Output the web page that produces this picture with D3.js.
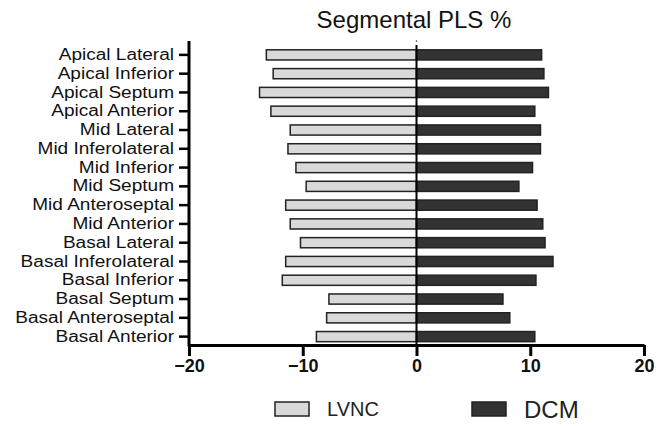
<!DOCTYPE html>
<html>
<head>
<meta charset="utf-8">
<script src="https://cdn.jsdelivr.net/npm/d3@7"></script>
<style>
  body { margin: 0; background: #fff; }
  svg { display: block; font-family: "Liberation Sans", Arial, sans-serif; }
</style>
</head>
<body>
<svg id="chart" width="667" height="426"></svg>
<script>
const segments = [
  "Apical Lateral", "Apical Inferior", "Apical Septum", "Apical Anterior",
  "Mid Lateral", "Mid Inferolateral", "Mid Inferior", "Mid Septum",
  "Mid Anteroseptal", "Mid Anterior", "Basal Lateral", "Basal Inferolateral",
  "Basal Inferior", "Basal Septum", "Basal Anteroseptal", "Basal Anterior"
];
const lvnc = [-13.2, -12.6, -13.8, -12.8, -11.1, -11.3, -10.6, -9.7,
  -11.5, -11.1, -10.2, -11.5, -11.8, -7.7, -7.9, -8.8];
const dcm = [11.0, 11.2, 11.6, 10.4, 10.9, 10.9, 10.2, 9.0,
  10.6, 11.1, 11.3, 12.0, 10.5, 7.6, 8.2, 10.4];
const xTicks = [-20, -10, 0, 10, 20];

const svg = d3.select("#chart");
const x = d3.scaleLinear().domain([-20, 20]).range([189, 644]);
const y = d3.scaleBand().domain(segments).range([45.5, 346]).paddingInner(0.46).paddingOuter(0.23);

const rows = segments.map((s, i) => ({ s, lvnc: lvnc[i], dcm: dcm[i] }));

// bars
svg.append("g").selectAll("rect")
  .data(rows)
  .join("rect")
  .attr("x", d => x(d.lvnc))
  .attr("y", d => y(d.s))
  .attr("width", d => x(0) - x(d.lvnc))
  .attr("height", y.bandwidth())
  .attr("fill", "#d9d9d9")
  .attr("stroke", "#222")
  .attr("stroke-width", 1.5);

svg.append("g").selectAll("rect")
  .data(rows)
  .join("rect")
  .attr("x", x(0))
  .attr("y", d => y(d.s))
  .attr("width", d => x(d.dcm) - x(0))
  .attr("height", y.bandwidth())
  .attr("fill", "#333")
  .attr("stroke", "#222")
  .attr("stroke-width", 1.5);

// zero line
svg.append("line")
  .attr("x1", x(0)).attr("x2", x(0))
  .attr("y1", 45).attr("y2", 345)
  .attr("stroke", "#000").attr("stroke-width", 2);
svg.append("circle").attr("cx", x(0)).attr("cy", 41).attr("r", 0.8).attr("fill", "#333");

// y axis - labels are wide and tightly packed, so stretch them horizontally
const labelStretch = 1.19;
const yAxis = svg.append("g")
  .attr("transform", `translate(${x(-20)},0)`)
  .call(d3.axisLeft(y).tickSize(10).tickPadding(5));
yAxis.select(".domain").remove();
yAxis.selectAll(".tick line").attr("stroke", "#000").attr("stroke-width", 2.5);
yAxis.selectAll(".tick text")
  .attr("font-size", 16).attr("fill", "#111")
  .attr("font-family", "Liberation Sans, Arial, sans-serif")
  .attr("x", -15 / labelStretch)
  .attr("transform", `scale(${labelStretch},1)`);
svg.append("line")
  .attr("x1", x(-20)).attr("x2", x(-20))
  .attr("y1", 41).attr("y2", 346.5)
  .attr("stroke", "#000").attr("stroke-width", 3);

// x axis
const xAxis = svg.append("g")
  .attr("transform", "translate(0,345)")
  .call(d3.axisBottom(x).tickValues(xTicks).tickSize(11).tickPadding(3).tickSizeOuter(0));
xAxis.select(".domain").attr("stroke", "#000").attr("stroke-width", 3);
xAxis.selectAll(".tick line").attr("stroke", "#000").attr("stroke-width", 3);
xAxis.selectAll(".tick text").attr("font-size", 18).attr("font-weight", "bold").attr("fill", "#111")
  .attr("font-family", "Liberation Sans, Arial, sans-serif");

// title
svg.append("text")
  .attr("x", 414).attr("y", 28)
  .attr("text-anchor", "middle")
  .attr("font-size", 24)
  .attr("fill", "#111")
  .text("Segmental PLS %");

// legend
const legend = [
  { name: "LVNC", fill: "#d9d9d9", x: 275, size: 20 },
  { name: "DCM", fill: "#333", x: 472, size: 24 }
];
const lg = svg.append("g").selectAll("g").data(legend).join("g");
lg.append("rect")
  .attr("x", d => d.x).attr("y", 402)
  .attr("width", 34).attr("height", 14)
  .attr("fill", d => d.fill)
  .attr("stroke", "#222").attr("stroke-width", 1.5);
lg.append("text")
  .attr("x", d => d.x + 52)
  .attr("y", d => d.name === "LVNC" ? 416 : 418)
  .attr("font-size", d => d.size)
  .attr("fill", "#222")
  .text(d => d.name);
</script>
</body>
</html>
